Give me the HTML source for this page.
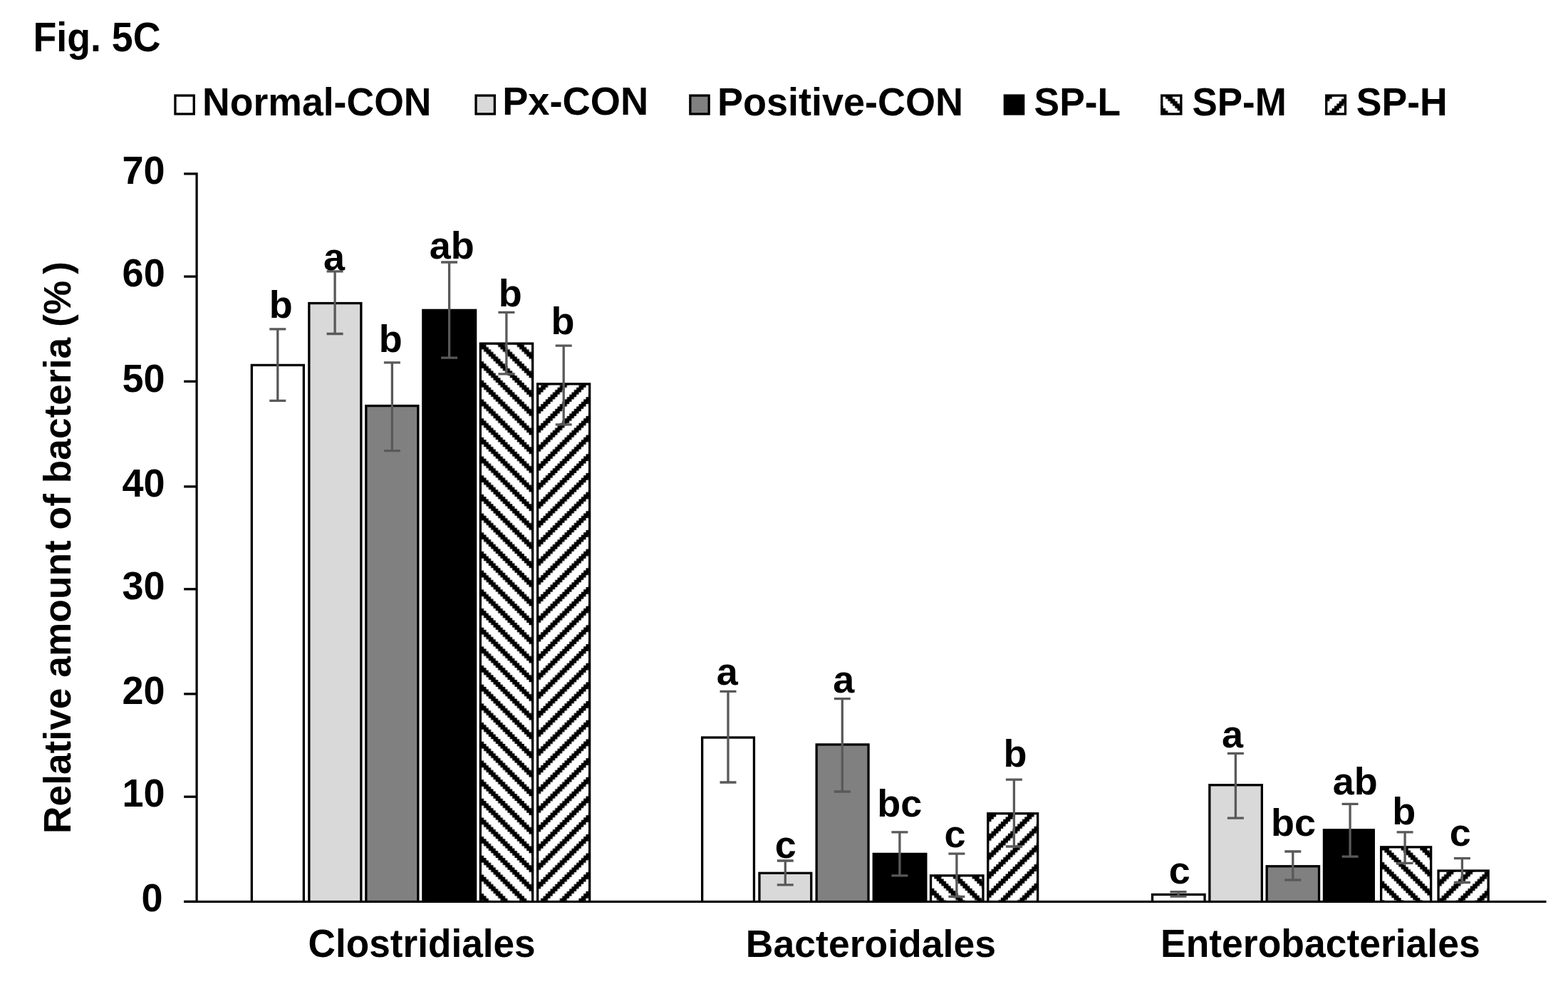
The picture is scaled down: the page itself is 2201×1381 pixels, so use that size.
<!DOCTYPE html><html><head><meta charset="utf-8"><title>Fig. 5C</title><style>
html,body{margin:0;padding:0;background:#fff;}body{width:2201px;height:1381px;overflow:hidden;}
svg{display:block;}text{font-family:'Liberation Sans', Arial, sans-serif;font-weight:bold;fill:#000;}
</style></head><body>
<svg width="2201" height="1381" viewBox="0 0 2201 1381">
<defs>
<pattern id="g0b4" patternUnits="userSpaceOnUse" x="675.8" y="483.65" width="26.680" height="26.680"><rect width="26.680" height="26.680" fill="#fff"/><path d="M0.000 0.000h3.345v3.345h-3.345zM3.335 0.000h3.345v3.345h-3.345zM23.345 0.000h3.345v3.345h-3.345zM0.000 3.335h3.345v3.345h-3.345zM3.335 3.335h3.345v3.345h-3.345zM6.670 3.335h3.345v3.345h-3.345zM3.335 6.670h3.345v3.345h-3.345zM6.670 6.670h3.345v3.345h-3.345zM10.005 6.670h3.345v3.345h-3.345zM6.670 10.005h3.345v3.345h-3.345zM10.005 10.005h3.345v3.345h-3.345zM13.340 10.005h3.345v3.345h-3.345zM10.005 13.340h3.345v3.345h-3.345zM13.340 13.340h3.345v3.345h-3.345zM16.675 13.340h3.345v3.345h-3.345zM13.340 16.675h3.345v3.345h-3.345zM16.675 16.675h3.345v3.345h-3.345zM20.010 16.675h3.345v3.345h-3.345zM16.675 20.010h3.345v3.345h-3.345zM20.010 20.010h3.345v3.345h-3.345zM23.345 20.010h3.345v3.345h-3.345zM0.000 23.345h3.345v3.345h-3.345zM20.010 23.345h3.345v3.345h-3.345zM23.345 23.345h3.345v3.345h-3.345z" fill="#000"/></pattern>
<pattern id="g0b5" patternUnits="userSpaceOnUse" x="755.8" y="540.4" width="26.680" height="26.680"><rect width="26.680" height="26.680" fill="#fff"/><path d="M3.335 0.000h3.345v3.345h-3.345zM6.670 0.000h3.345v3.345h-3.345zM10.005 0.000h3.345v3.345h-3.345zM0.000 3.335h3.345v3.345h-3.345zM3.335 3.335h3.345v3.345h-3.345zM6.670 3.335h3.345v3.345h-3.345zM0.000 6.670h3.345v3.345h-3.345zM3.335 6.670h3.345v3.345h-3.345zM23.345 6.670h3.345v3.345h-3.345zM0.000 10.005h3.345v3.345h-3.345zM20.010 10.005h3.345v3.345h-3.345zM23.345 10.005h3.345v3.345h-3.345zM16.675 13.340h3.345v3.345h-3.345zM20.010 13.340h3.345v3.345h-3.345zM23.345 13.340h3.345v3.345h-3.345zM13.340 16.675h3.345v3.345h-3.345zM16.675 16.675h3.345v3.345h-3.345zM20.010 16.675h3.345v3.345h-3.345zM10.005 20.010h3.345v3.345h-3.345zM13.340 20.010h3.345v3.345h-3.345zM16.675 20.010h3.345v3.345h-3.345zM6.670 23.345h3.345v3.345h-3.345zM10.005 23.345h3.345v3.345h-3.345zM13.340 23.345h3.345v3.345h-3.345z" fill="#000"/></pattern>
<pattern id="g1b4" patternUnits="userSpaceOnUse" x="1308.0" y="1230.0" width="26.680" height="26.680"><rect width="26.680" height="26.680" fill="#fff"/><path d="M3.335 0.000h3.345v3.345h-3.345zM6.670 0.000h3.345v3.345h-3.345zM10.005 0.000h3.345v3.345h-3.345zM6.670 3.335h3.345v3.345h-3.345zM10.005 3.335h3.345v3.345h-3.345zM13.340 3.335h3.345v3.345h-3.345zM10.005 6.670h3.345v3.345h-3.345zM13.340 6.670h3.345v3.345h-3.345zM16.675 6.670h3.345v3.345h-3.345zM13.340 10.005h3.345v3.345h-3.345zM16.675 10.005h3.345v3.345h-3.345zM20.010 10.005h3.345v3.345h-3.345zM16.675 13.340h3.345v3.345h-3.345zM20.010 13.340h3.345v3.345h-3.345zM23.345 13.340h3.345v3.345h-3.345zM0.000 16.675h3.345v3.345h-3.345zM20.010 16.675h3.345v3.345h-3.345zM23.345 16.675h3.345v3.345h-3.345zM0.000 20.010h3.345v3.345h-3.345zM3.335 20.010h3.345v3.345h-3.345zM23.345 20.010h3.345v3.345h-3.345zM0.000 23.345h3.345v3.345h-3.345zM3.335 23.345h3.345v3.345h-3.345zM6.670 23.345h3.345v3.345h-3.345z" fill="#000"/></pattern>
<pattern id="g1b5" patternUnits="userSpaceOnUse" x="1388.2" y="1143.0" width="26.680" height="26.680"><rect width="26.680" height="26.680" fill="#fff"/><path d="M0.000 0.000h3.345v3.345h-3.345zM3.335 0.000h3.345v3.345h-3.345zM6.670 0.000h3.345v3.345h-3.345zM0.000 3.335h3.345v3.345h-3.345zM3.335 3.335h3.345v3.345h-3.345zM23.345 3.335h3.345v3.345h-3.345zM0.000 6.670h3.345v3.345h-3.345zM20.010 6.670h3.345v3.345h-3.345zM23.345 6.670h3.345v3.345h-3.345zM16.675 10.005h3.345v3.345h-3.345zM20.010 10.005h3.345v3.345h-3.345zM23.345 10.005h3.345v3.345h-3.345zM13.340 13.340h3.345v3.345h-3.345zM16.675 13.340h3.345v3.345h-3.345zM20.010 13.340h3.345v3.345h-3.345zM10.005 16.675h3.345v3.345h-3.345zM13.340 16.675h3.345v3.345h-3.345zM16.675 16.675h3.345v3.345h-3.345zM6.670 20.010h3.345v3.345h-3.345zM10.005 20.010h3.345v3.345h-3.345zM13.340 20.010h3.345v3.345h-3.345zM3.335 23.345h3.345v3.345h-3.345zM6.670 23.345h3.345v3.345h-3.345zM10.005 23.345h3.345v3.345h-3.345z" fill="#000"/></pattern>
<pattern id="g2b4" patternUnits="userSpaceOnUse" x="1940.0" y="1190.0" width="26.680" height="26.680"><rect width="26.680" height="26.680" fill="#fff"/><path d="M0.000 0.000h3.345v3.345h-3.345zM3.335 0.000h3.345v3.345h-3.345zM6.670 0.000h3.345v3.345h-3.345zM3.335 3.335h3.345v3.345h-3.345zM6.670 3.335h3.345v3.345h-3.345zM10.005 3.335h3.345v3.345h-3.345zM6.670 6.670h3.345v3.345h-3.345zM10.005 6.670h3.345v3.345h-3.345zM13.340 6.670h3.345v3.345h-3.345zM10.005 10.005h3.345v3.345h-3.345zM13.340 10.005h3.345v3.345h-3.345zM16.675 10.005h3.345v3.345h-3.345zM13.340 13.340h3.345v3.345h-3.345zM16.675 13.340h3.345v3.345h-3.345zM20.010 13.340h3.345v3.345h-3.345zM16.675 16.675h3.345v3.345h-3.345zM20.010 16.675h3.345v3.345h-3.345zM23.345 16.675h3.345v3.345h-3.345zM0.000 20.010h3.345v3.345h-3.345zM20.010 20.010h3.345v3.345h-3.345zM23.345 20.010h3.345v3.345h-3.345zM0.000 23.345h3.345v3.345h-3.345zM3.335 23.345h3.345v3.345h-3.345zM23.345 23.345h3.345v3.345h-3.345z" fill="#000"/></pattern>
<pattern id="g2b5" patternUnits="userSpaceOnUse" x="2020.4" y="1223.6" width="26.680" height="26.680"><rect width="26.680" height="26.680" fill="#fff"/><path d="M10.005 0.000h3.345v3.345h-3.345zM13.340 0.000h3.345v3.345h-3.345zM16.675 0.000h3.345v3.345h-3.345zM6.670 3.335h3.345v3.345h-3.345zM10.005 3.335h3.345v3.345h-3.345zM13.340 3.335h3.345v3.345h-3.345zM3.335 6.670h3.345v3.345h-3.345zM6.670 6.670h3.345v3.345h-3.345zM10.005 6.670h3.345v3.345h-3.345zM0.000 10.005h3.345v3.345h-3.345zM3.335 10.005h3.345v3.345h-3.345zM6.670 10.005h3.345v3.345h-3.345zM0.000 13.340h3.345v3.345h-3.345zM3.335 13.340h3.345v3.345h-3.345zM23.345 13.340h3.345v3.345h-3.345zM0.000 16.675h3.345v3.345h-3.345zM20.010 16.675h3.345v3.345h-3.345zM23.345 16.675h3.345v3.345h-3.345zM16.675 20.010h3.345v3.345h-3.345zM20.010 20.010h3.345v3.345h-3.345zM23.345 20.010h3.345v3.345h-3.345zM13.340 23.345h3.345v3.345h-3.345zM16.675 23.345h3.345v3.345h-3.345zM20.010 23.345h3.345v3.345h-3.345z" fill="#000"/></pattern>
<pattern id="l4" patternUnits="userSpaceOnUse" x="1632.7" y="135.3" width="26.680" height="26.680"><rect width="26.680" height="26.680" fill="#fff"/><path d="M3.335 0.000h3.345v3.345h-3.345zM6.670 0.000h3.345v3.345h-3.345zM10.005 0.000h3.345v3.345h-3.345zM6.670 3.335h3.345v3.345h-3.345zM10.005 3.335h3.345v3.345h-3.345zM13.340 3.335h3.345v3.345h-3.345zM10.005 6.670h3.345v3.345h-3.345zM13.340 6.670h3.345v3.345h-3.345zM16.675 6.670h3.345v3.345h-3.345zM13.340 10.005h3.345v3.345h-3.345zM16.675 10.005h3.345v3.345h-3.345zM20.010 10.005h3.345v3.345h-3.345zM16.675 13.340h3.345v3.345h-3.345zM20.010 13.340h3.345v3.345h-3.345zM23.345 13.340h3.345v3.345h-3.345zM0.000 16.675h3.345v3.345h-3.345zM20.010 16.675h3.345v3.345h-3.345zM23.345 16.675h3.345v3.345h-3.345zM0.000 20.010h3.345v3.345h-3.345zM3.335 20.010h3.345v3.345h-3.345zM23.345 20.010h3.345v3.345h-3.345zM0.000 23.345h3.345v3.345h-3.345zM3.335 23.345h3.345v3.345h-3.345zM6.670 23.345h3.345v3.345h-3.345z" fill="#000"/></pattern>
<pattern id="l5" patternUnits="userSpaceOnUse" x="1863.0" y="135.3" width="26.680" height="26.680"><rect width="26.680" height="26.680" fill="#fff"/><path d="M0.000 0.000h3.345v3.345h-3.345zM3.335 0.000h3.345v3.345h-3.345zM23.345 0.000h3.345v3.345h-3.345zM0.000 3.335h3.345v3.345h-3.345zM20.010 3.335h3.345v3.345h-3.345zM23.345 3.335h3.345v3.345h-3.345zM16.675 6.670h3.345v3.345h-3.345zM20.010 6.670h3.345v3.345h-3.345zM23.345 6.670h3.345v3.345h-3.345zM13.340 10.005h3.345v3.345h-3.345zM16.675 10.005h3.345v3.345h-3.345zM20.010 10.005h3.345v3.345h-3.345zM10.005 13.340h3.345v3.345h-3.345zM13.340 13.340h3.345v3.345h-3.345zM16.675 13.340h3.345v3.345h-3.345zM6.670 16.675h3.345v3.345h-3.345zM10.005 16.675h3.345v3.345h-3.345zM13.340 16.675h3.345v3.345h-3.345zM3.335 20.010h3.345v3.345h-3.345zM6.670 20.010h3.345v3.345h-3.345zM10.005 20.010h3.345v3.345h-3.345zM0.000 23.345h3.345v3.345h-3.345zM3.335 23.345h3.345v3.345h-3.345zM6.670 23.345h3.345v3.345h-3.345z" fill="#000"/></pattern>
</defs>
<rect width="2201" height="1381" fill="#fff"/>
<rect x="351.7" y="510.8" width="76.3" height="753.6" fill="#000"/>
<rect x="355" y="514.1" width="69.7" height="750.3" fill="#ffffff"/>
<rect x="432.2" y="423.9" width="76.3" height="840.5" fill="#000"/>
<rect x="435.5" y="427.2" width="69.7" height="837.2" fill="#d9d9d9"/>
<rect x="512.2" y="567.9" width="76.3" height="696.5" fill="#000"/>
<rect x="515.5" y="571.2" width="69.7" height="693.2" fill="#808080"/>
<rect x="592.2" y="433.7" width="77.1" height="830.7" fill="#000"/>
<rect x="595.5" y="437" width="70.5" height="827.4" fill="#000000"/>
<rect x="672.7" y="480.5" width="76.6" height="783.9" fill="#000"/>
<rect x="676" y="483.8" width="70" height="780.6" fill="url(#g0b4)"/>
<rect x="753" y="537.2" width="76.3" height="727.2" fill="#000"/>
<rect x="756.3" y="540.5" width="69.7" height="723.9" fill="url(#g0b5)"/>
<rect x="984" y="1033.4" width="76.1" height="231" fill="#000"/>
<rect x="987.3" y="1036.7" width="69.5" height="227.7" fill="#ffffff"/>
<rect x="1064.3" y="1223.7" width="76.1" height="40.7" fill="#000"/>
<rect x="1067.6" y="1227" width="69.5" height="37.4" fill="#d9d9d9"/>
<rect x="1144.5" y="1043.3" width="76.2" height="221.1" fill="#000"/>
<rect x="1147.8" y="1046.6" width="69.6" height="217.8" fill="#808080"/>
<rect x="1224.6" y="1196.8" width="76.9" height="67.6" fill="#000"/>
<rect x="1227.9" y="1200.1" width="70.3" height="64.3" fill="#000000"/>
<rect x="1304.9" y="1227.2" width="76.7" height="37.2" fill="#000"/>
<rect x="1308.2" y="1230.5" width="70.1" height="33.9" fill="url(#g1b4)"/>
<rect x="1385.1" y="1140.1" width="73.2" height="124.3" fill="#000"/>
<rect x="1388.4" y="1143.4" width="66.6" height="121" fill="url(#g1b5)"/>
<rect x="1615.9" y="1253.8" width="76.8" height="10.6" fill="#000"/>
<rect x="1619.2" y="1257.1" width="70.2" height="7.3" fill="#ffffff"/>
<rect x="1696.2" y="1100.1" width="76.8" height="164.3" fill="#000"/>
<rect x="1699.5" y="1103.4" width="70.2" height="161" fill="#d9d9d9"/>
<rect x="1776.5" y="1214.1" width="76.7" height="50.3" fill="#000"/>
<rect x="1779.8" y="1217.4" width="70.1" height="47" fill="#808080"/>
<rect x="1856.8" y="1163.2" width="73.2" height="101.2" fill="#000"/>
<rect x="1860.1" y="1166.5" width="66.6" height="97.9" fill="#000000"/>
<rect x="1937" y="1187.2" width="73.3" height="77.2" fill="#000"/>
<rect x="1940.3" y="1190.5" width="66.7" height="73.9" fill="url(#g2b4)"/>
<rect x="2017.4" y="1220.4" width="73.4" height="44" fill="#000"/>
<rect x="2020.7" y="1223.7" width="66.8" height="40.7" fill="url(#g2b5)"/>
<path d="M389.8 461.8V562.3M378.3 461.8H401.3M378.3 562.3H401.3" stroke="#595959" stroke-width="3.3" fill="none"/>
<path d="M470.1 380.8V468.5M458.6 380.8H481.6M458.6 468.5H481.6" stroke="#595959" stroke-width="3.3" fill="none"/>
<path d="M550.4 508.8V632.7M538.9 508.8H561.9M538.9 632.7H561.9" stroke="#595959" stroke-width="3.3" fill="none"/>
<path d="M630.6 368V502.2M619.1 368H642.1M619.1 502.2H642.1" stroke="#595959" stroke-width="3.3" fill="none"/>
<path d="M710.9 438.4V524.9M699.4 438.4H722.4M699.4 524.9H722.4" stroke="#595959" stroke-width="3.3" fill="none"/>
<path d="M791.2 485.2V595.8M779.7 485.2H802.7M779.7 595.8H802.7" stroke="#595959" stroke-width="3.3" fill="none"/>
<path d="M1022 970.3V1098M1010.5 970.3H1033.5M1010.5 1098H1033.5" stroke="#595959" stroke-width="3.3" fill="none"/>
<path d="M1102.3 1208V1241.9M1090.8 1208H1113.8M1090.8 1241.9H1113.8" stroke="#595959" stroke-width="3.3" fill="none"/>
<path d="M1182.3 980.7V1111M1170.8 980.7H1193.8M1170.8 1111H1193.8" stroke="#595959" stroke-width="3.3" fill="none"/>
<path d="M1262.9 1167.9V1228.9M1251.4 1167.9H1274.4M1251.4 1228.9H1274.4" stroke="#595959" stroke-width="3.3" fill="none"/>
<path d="M1342.9 1198.1V1258.3M1331.4 1198.1H1354.4M1331.4 1258.3H1354.4" stroke="#595959" stroke-width="3.3" fill="none"/>
<path d="M1423.4 1094.1V1188M1411.9 1094.1H1434.9M1411.9 1188H1434.9" stroke="#595959" stroke-width="3.3" fill="none"/>
<path d="M1654 1251.6V1258.2M1642.5 1251.6H1665.5M1642.5 1258.2H1665.5" stroke="#595959" stroke-width="3.3" fill="none"/>
<path d="M1734.4 1057.4V1148.1M1722.9 1057.4H1745.9M1722.9 1148.1H1745.9" stroke="#595959" stroke-width="3.3" fill="none"/>
<path d="M1814.8 1195V1235M1803.3 1195H1826.3M1803.3 1235H1826.3" stroke="#595959" stroke-width="3.3" fill="none"/>
<path d="M1895.1 1128.3V1202.1M1883.6 1128.3H1906.6M1883.6 1202.1H1906.6" stroke="#595959" stroke-width="3.3" fill="none"/>
<path d="M1972.1 1167.9V1211.3M1960.6 1167.9H1983.6M1960.6 1211.3H1983.6" stroke="#595959" stroke-width="3.3" fill="none"/>
<path d="M2052.4 1204.7V1238.5M2040.9 1204.7H2063.9M2040.9 1238.5H2063.9" stroke="#595959" stroke-width="3.3" fill="none"/>
<rect x="258.2" y="1263.9" width="1912.3" height="3.1" fill="#000"/>
<rect x="274.5" y="242.25" width="3.2" height="1024.75" fill="#000"/>
<rect x="258.2" y="242.25" width="16.8" height="3.3" fill="#000"/>
<rect x="258.2" y="386.45" width="16.8" height="3.3" fill="#000"/>
<rect x="258.2" y="533.65" width="16.8" height="3.3" fill="#000"/>
<rect x="258.2" y="681.25" width="16.8" height="3.3" fill="#000"/>
<rect x="258.2" y="825.15" width="16.8" height="3.3" fill="#000"/>
<rect x="258.2" y="972.25" width="16.8" height="3.3" fill="#000"/>
<rect x="258.2" y="1116.55" width="16.8" height="3.3" fill="#000"/>
<rect x="258.2" y="1263.75" width="16.8" height="3.3" fill="#000"/>
<rect x="244.3" y="132.4" width="29.6" height="29.2" fill="#000"/>
<rect x="247.6" y="135.7" width="23" height="22.6" fill="#ffffff"/>
<rect x="666.4" y="132.4" width="29.6" height="29.2" fill="#000"/>
<rect x="669.7" y="135.7" width="23" height="22.6" fill="#d9d9d9"/>
<rect x="967.2" y="132.4" width="29.6" height="29.2" fill="#000"/>
<rect x="970.5" y="135.7" width="23" height="22.6" fill="#808080"/>
<rect x="1408.7" y="132.4" width="29.6" height="29.2" fill="#000"/>
<rect x="1412" y="135.7" width="23" height="22.6" fill="#000000"/>
<rect x="1629.1" y="132.4" width="30.4" height="29.2" fill="#000"/>
<rect x="1632.4" y="135.7" width="23.8" height="22.6" fill="url(#l4)"/>
<rect x="1860.1" y="132.4" width="30" height="29.2" fill="#000"/>
<rect x="1863.4" y="135.7" width="23.4" height="22.6" fill="url(#l5)"/>
<text transform="translate(46.4 71.8) scale(1 1.0770)" font-size="53.72">Fig. 5C</text>
<text transform="translate(283.98 161.9) scale(1 1.0390)" font-size="53.6">Normal-CON</text>
<text transform="translate(705.14 161.18) scale(1 1.0290)" font-size="54.28">Px-CON</text>
<text transform="translate(1006.89 161.92) scale(1 1.0320)" font-size="54.01">Positive-CON</text>
<text transform="translate(1451.53 161.9) scale(1 1.0450)" font-size="53.39">SP-L</text>
<text transform="translate(1673.47 161.9) scale(1 1.0540)" font-size="52.95">SP-M</text>
<text transform="translate(1903.71 161.9) scale(1 1.0410)" font-size="53.63">SP-H</text>
<text transform="translate(171.49 258.25) scale(1 1.0450)" font-size="54">70</text>
<text transform="translate(171.6 402.45) scale(1 1.0450)" font-size="54">60</text>
<text transform="translate(171.4 549.66) scale(1 1.0450)" font-size="54">50</text>
<text transform="translate(171.52 697.25) scale(1 1.0450)" font-size="54">40</text>
<text transform="translate(171.51 841.4) scale(1 1.0450)" font-size="54">30</text>
<text transform="translate(171.56 988.25) scale(1 1.0450)" font-size="54">20</text>
<text transform="translate(171.47 1132.15) scale(1 1.0450)" font-size="54">10</text>
<text transform="translate(198.5 1279.37) scale(1 1.0450)" font-size="54">0</text>
<text transform="translate(99.04 1169.99) rotate(-90) scale(1 1.0030)" font-size="53.32">Relative amount of bacteria (%<tspan dx="9">)</tspan></text>
<text transform="translate(432.49 1343.31) scale(1 1.0330)" font-size="53.19">Clostridiales</text>
<text transform="translate(1046.82 1343.31) scale(1 1.0180)" font-size="53.56">Bacteroidales</text>
<text transform="translate(1628.99 1343.11) scale(1 1.0300)" font-size="53.47">Enterobacteriales</text>
<text transform="translate(377.65 446.29) scale(1 1.0100)" font-size="54">b</text>
<text transform="translate(454.02 379.41) scale(1 1.0100)" font-size="54">a</text>
<text transform="translate(531.71 493.88) scale(1 1.0100)" font-size="54">b</text>
<text transform="translate(602.72 362.62) scale(1 1.0100)" font-size="54">ab</text>
<text transform="translate(699.86 429.87) scale(1 1.0100)" font-size="54">b</text>
<text transform="translate(773.59 469.4) scale(1 1.0100)" font-size="54">b</text>
<text transform="translate(1005.83 961.32) scale(1 1.0100)" font-size="54">a</text>
<text transform="translate(1087.71 1203.58) scale(1 1.0100)" font-size="54">c</text>
<text transform="translate(1169.17 972.21) scale(1 1.0100)" font-size="54">a</text>
<text transform="translate(1231.21 1146.02) scale(1 1.0100)" font-size="54">bc</text>
<text transform="translate(1325.46 1189) scale(1 1.0100)" font-size="54">c</text>
<text transform="translate(1408.42 1076.43) scale(1 1.0100)" font-size="54">b</text>
<text transform="translate(1640.65 1239.9) scale(1 1.0100)" font-size="54">c</text>
<text transform="translate(1714.97 1049.01) scale(1 1.0100)" font-size="54">a</text>
<text transform="translate(1783.9 1172.58) scale(1 1.0100)" font-size="54">bc</text>
<text transform="translate(1870.67 1115.42) scale(1 1.0100)" font-size="54">ab</text>
<text transform="translate(1954.33 1156.94) scale(1 1.0100)" font-size="54">b</text>
<text transform="translate(2034.71 1186.58) scale(1 1.0100)" font-size="54">c</text>
</svg></body></html>
